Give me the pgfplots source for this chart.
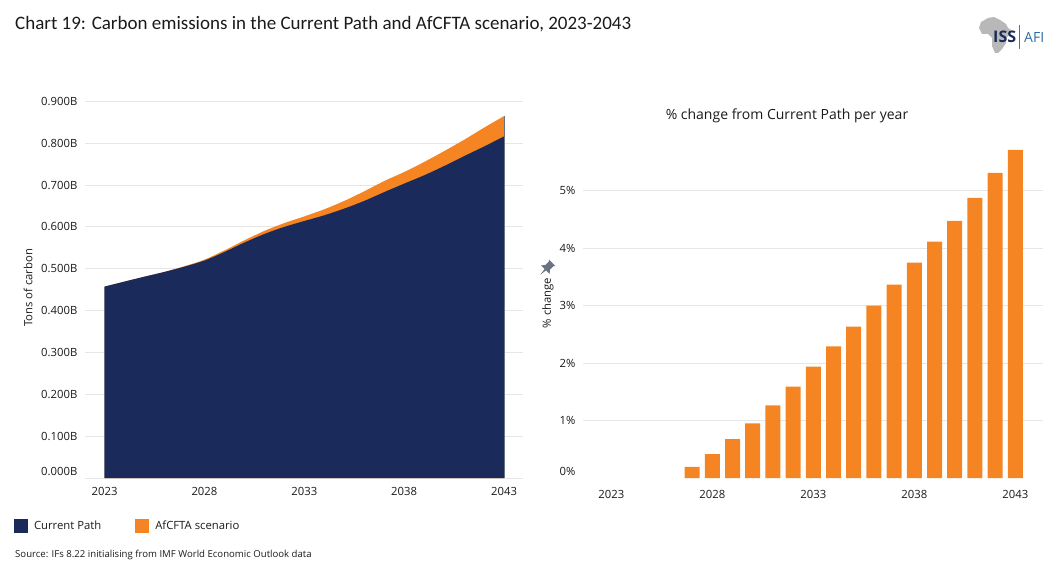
\documentclass[border=0pt]{standalone}
\usepackage{fontspec}
\usepackage{pgfplots}
\pgfplotsset{compat=1.18}
\setmainfont{Open Sans}
\newfontfamily\titlefont{Carlito}

\definecolor{navy}{HTML}{1A2A5A}
\definecolor{afcfta}{HTML}{F58423}
\definecolor{gridgrey}{HTML}{E6E6E6}
\definecolor{inkdark}{HTML}{1A1A1A}
\definecolor{pingrey}{HTML}{6B7280}
\definecolor{afiblue}{HTML}{2E6DA4}

\newcommand{\ticktext}{\fontsize{11.3}{13}\selectfont}

\pgfplotsset{
  issaxis/.style={
    scale only axis,
    axis x line=bottom,
    axis y line=left,
    axis line style={draw=none},
    clip=false,
    ymajorgrids=true,
    grid style={gridgrey,line width=1pt},
    tick style={draw=none},
    xticklabel style={font=\ticktext,text=inkdark,yshift=-4pt},
    yticklabel style={font=\ticktext,text=inkdark,anchor=east,xshift=-2pt},
    ylabel style={font=\ticktext,text=inkdark,anchor=center},
    xtick={2023,2028,2033,2038,2043},
    xticklabels={2023,2028,2033,2038,2043},
  }
}

\begin{document}
\begin{tikzpicture}[x=1pt,y=1pt]
\path[use as bounding box] (0,0) rectangle (1055,584);

\node[anchor=base west,inner sep=0pt,text=inkdark,font=\titlefont\fontsize{19}{21}\selectfont] at (15,554) {Chart 19: Carbon emissions in the Current Path and AfCFTA scenario, 2023-2043};

% left panel, levels
\begin{axis}[
  issaxis,
  at={(85pt,106pt)},anchor=south west,
  width=438pt,height=376.7pt,
  xmin=2022.02,xmax=2043.95,
  ymin=0,ymax=0.9,
  ytick={0,0.1,0.2,0.3,0.4,0.5,0.6,0.7,0.8,0.9},
  yticklabels={\raisebox{13pt}{0.000B},0.100B,0.200B,0.300B,0.400B,0.500B,0.600B,0.700B,0.800B,\raisebox{-8pt}{0.900B}},
  ylabel={Tons of carbon},
  y label style={at={(axis description cs:-0.13,0.505)}},
  reverse legend,
  legend columns=2,
  legend style={at={(-0.1625,-0.1274)},anchor=west,draw=none,fill=none,inner sep=0pt,font=\ticktext,text=inkdark,
    /tikz/every even column/.append style={column sep=32pt}},
  legend cell align=left,
  legend image code/.code={\fill[#1] (0pt,-7pt) rectangle (14pt,7pt);},
]
\addplot[fill=afcfta,draw=none,smooth] coordinates {
(2023,0.4574)(2024,0.4693)(2025,0.4810)(2026,0.4924)(2027,0.5060)(2028,0.5217)(2029,0.5437)
(2030,0.5678)(2031,0.5903)(2032,0.6090)(2033,0.6250)(2034,0.6420)(2035,0.6620)(2036,0.6850)
(2037,0.7095)(2038,0.7310)(2039,0.7550)(2040,0.7810)(2041,0.8080)(2042,0.8370)(2043,0.8647)
} \closedcycle;
\addlegendentry{\hspace{4pt}AfCFTA scenario}
\addplot[fill=navy,draw=none,smooth] coordinates {
(2023,0.4574)(2024,0.4693)(2025,0.4810)(2026,0.4924)(2027,0.5050)(2028,0.5195)(2029,0.5400)
(2030,0.5625)(2031,0.5830)(2032,0.6000)(2033,0.6140)(2034,0.6277)(2035,0.6437)(2036,0.6620)
(2037,0.6830)(2038,0.7033)(2039,0.7232)(2040,0.7453)(2041,0.7690)(2042,0.7920)(2043,0.8162)
} \closedcycle;
\addlegendentry{\hspace{4pt}Current Path}
\addplot[forget plot,draw=pingrey,line width=0.6pt] coordinates {(2023,0)(2023,0.4574)};
\addplot[forget plot,draw=pingrey,line width=0.6pt] coordinates {(2043,0)(2043,0.8647)};
\end{axis}

% right panel, percentage gap
\begin{axis}[
  issaxis,
  at={(583pt,105.8pt)},anchor=south west,
  width=460pt,height=345.2pt,
  xmin=2021.6,xmax=2044.37,
  ymin=0,ymax=6,
  ytick={1,2,3,4,5},
  yticklabels={1\%,2\%,3\%,4\%,5\%},
  extra y ticks={0},
  extra y tick labels={\raisebox{13pt}{0\%}},
  extra y tick style={grid=none},
  ylabel={\% change},
  y label style={at={(axis description cs:-0.076,0.5075)}},
  title={\% change from Current Path per year},
  title style={font=\fontsize{14}{16}\selectfont,text=inkdark,at={(0.4435,1.033)},anchor=center},
  ybar,bar width=15pt,
]
\addplot[fill=afcfta,draw=none,bar shift=0pt] coordinates {
(2027,0.195)(2028,0.42)(2029,0.68)(2030,0.954)(2031,1.264)(2032,1.59)(2033,1.94)(2034,2.29)
(2035,2.636)(2036,3.0)(2037,3.364)(2038,3.746)(2039,4.11)(2040,4.474)(2041,4.873)(2042,5.306)(2043,5.705)
};
\end{axis}

% pin next to the right axis label
\begin{scope}[shift={(547,316)},rotate=-45,scale=1.45]
\fill[pingrey] (-3.2,5) -- (3.2,5) -- (2.2,4) -- (2.2,0.6) -- (4.2,-1.6) -- (-4.2,-1.6) -- (-2.2,0.6) -- (-2.2,4) -- cycle;
\fill[pingrey] (-0.7,-1.6) -- (0.7,-1.6) -- (0,-6.5) -- cycle;
\end{scope}

\node[anchor=base west,inner sep=0pt,text=inkdark,font=\fontsize{9.6}{11}\selectfont] at (15,27) {Source: IFs 8.22 initialising from IMF World Economic Outlook data};

% logo
\fill[black!28] (988,566) -- (994,567) -- (1000,564) -- (1006,560) -- (1008,556) -- (1011,554) -- (1009,549) -- (1006,546) -- (1006,541) -- (1002,535) -- (998,531) -- (995,531) -- (992,538) -- (992,546) -- (988,550) -- (982,550) -- (979,556) -- (981,562) -- cycle;
\node[anchor=base west,inner sep=0pt,text=navy,font=\fontsize{16}{18}\bfseries\selectfont] at (993,541) {ISS};
\draw[black!35!green!60!gray,line width=0.8pt] (1019,559) -- (1019,535);
\node[anchor=base west,inner sep=0pt,text=afiblue,font=\fontsize{14}{16}\selectfont] at (1024,541) {AFI};
\end{tikzpicture}
\end{document}
